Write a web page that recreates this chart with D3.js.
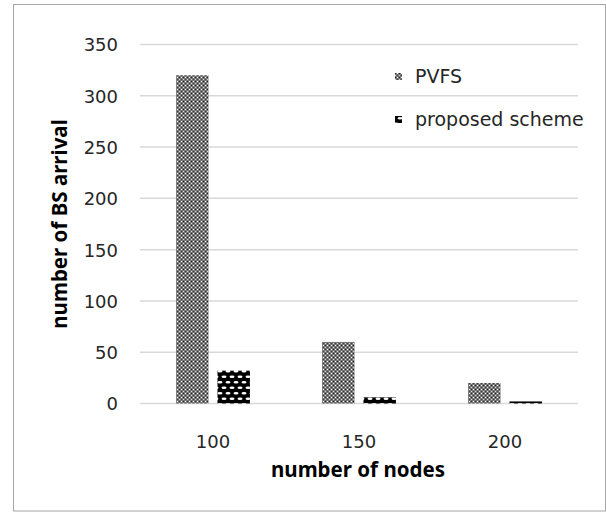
<!DOCTYPE html>
<html>
<head>
<meta charset="utf-8">
<script src="https://cdn.jsdelivr.net/npm/d3@7"></script>
<style>
  html, body { margin: 0; padding: 0; background: #fff; }
  svg { display: block; font-family: "DejaVu Sans", "Noto Sans", sans-serif; }
</style>
</head>
<body>
<svg id="chart" width="606" height="512"></svg>
<script>
// Node counts on the x axis
const categories = ["100", "150", "200"];
// Series names
const seriesNames = ["PVFS", "proposed scheme"];
// Number of BS arrivals per series
const pvfsValues = [320, 60, 20];
const proposedValues = [32, 6, 2];
// Y axis ticks
const yTicks = [0, 50, 100, 150, 200, 250, 300, 350];

const svg = d3.select("#chart");
const labelFont = "\"DejaVu Sans\", sans-serif";
const titleFont = "\"Noto Sans\", sans-serif";

// Fill patterns for the two series
const defs = svg.append("defs");
const pv = defs.append("pattern").attr("id", "pat-pvfs")
  .attr("patternUnits", "userSpaceOnUse").attr("width", 4).attr("height", 4);
pv.append("rect").attr("width", 4).attr("height", 4).attr("fill", "#777777");
pv.append("rect").attr("x", 1).attr("y", 1).attr("width", 1).attr("height", 1).attr("fill", "#ffffff");
pv.append("rect").attr("x", 3).attr("y", 3).attr("width", 1).attr("height", 1).attr("fill", "#d8d8d8");
pv.append("rect").attr("x", 3).attr("y", 1).attr("width", 1).attr("height", 1).attr("fill", "#202020");
pv.append("rect").attr("x", 1).attr("y", 3).attr("width", 1).attr("height", 1).attr("fill", "#404040");

const pp = defs.append("pattern").attr("id", "pat-prop")
  .attr("patternUnits", "userSpaceOnUse").attr("width", 8).attr("height", 11);
pp.append("rect").attr("width", 8).attr("height", 11).attr("fill", "#000");
pp.append("ellipse").attr("cx", 4).attr("cy", 2.75).attr("rx", 2.5).attr("ry", 1.2).attr("fill", "#fff");
pp.append("ellipse").attr("cx", 0).attr("cy", 8.25).attr("rx", 2.5).attr("ry", 1.2).attr("fill", "#fff");
pp.append("ellipse").attr("cx", 8).attr("cy", 8.25).attr("rx", 2.5).attr("ry", 1.2).attr("fill", "#fff");

const fills = ["url(#pat-pvfs)", "url(#pat-prop)"];

// Outer frame
svg.append("rect").attr("x", 13.5).attr("y", 4.5).attr("width", 592).attr("height", 506.5)
  .attr("fill", "#fff").attr("stroke", "#a6a6a6").attr("stroke-width", 1);

const plot = { left: 140, right: 578, top: 44.5, bottom: 403.5 };

const y = d3.scaleLinear().domain([0, 350]).range([plot.bottom, plot.top]);
const x0 = d3.scaleBand().domain(categories).range([plot.left, plot.right]).padding(0);
const bw = x0.bandwidth();
const x1 = d3.scaleBand().domain(seriesNames)
  .range([bw * 0.247, bw * 0.753]).paddingInner(0.217).paddingOuter(0);

// Gridlines
svg.append("g").selectAll("line").data(yTicks).join("line")
  .attr("x1", plot.left).attr("x2", plot.right)
  .attr("y1", d => y(d)).attr("y2", d => y(d))
  .attr("stroke", "#d9d9d9").attr("stroke-width", 1.5);

// Y axis labels
const yAxis = d3.axisLeft(y).tickValues(yTicks).tickSize(0).tickPadding(0);
const gy = svg.append("g").attr("transform", `translate(118,0)`).call(yAxis);
gy.select(".domain").remove();
gy.selectAll("text").attr("font-size", 18).attr("fill", "#262626")
  .attr("font-family", labelFont).attr("dy", "0.36em");

// X axis labels
const xAxis = d3.axisBottom(x0).tickSize(0).tickPadding(0);
const gx = svg.append("g").attr("transform", `translate(0,${plot.bottom})`).call(xAxis);
gx.select(".domain").remove();
gx.selectAll("text").attr("font-size", 18).attr("fill", "#262626")
  .attr("font-family", labelFont).attr("dy", null).attr("y", 44);

// Bars
const rows = categories.map((c, i) => ({ cat: c, vals: [pvfsValues[i], proposedValues[i]] }));
const groups = svg.append("g").selectAll("g").data(rows).join("g")
  .attr("transform", d => `translate(${x0(d.cat)},0)`);
groups.selectAll("rect").data(d => d.vals.map((v, j) => ({ v, s: seriesNames[j], j })))
  .join("rect")
  .attr("x", d => x1(d.s)).attr("width", x1.bandwidth())
  .attr("y", d => y(d.v)).attr("height", d => y(0) - y(d.v))
  .attr("fill", d => fills[d.j]);

// Axis titles
svg.append("text").attr("x", 358).attr("y", 477).attr("text-anchor", "middle")
  .attr("font-family", titleFont).attr("font-size", 20.5).attr("font-weight", "bold").attr("fill", "#000")
  .text("number of nodes");
svg.append("text").attr("transform", "translate(67,224) rotate(-90)").attr("text-anchor", "middle")
  .attr("font-family", titleFont).attr("font-size", 20.5).attr("font-weight", "bold").attr("fill", "#000")
  .text("number of BS arrival");

// Legend
const legend = svg.append("g");
const legY = [76.5, 119.5];
seriesNames.forEach((name, i) => {
  legend.append("rect").attr("x", 395).attr("y", legY[i] - 3.5).attr("width", 7).attr("height", 7)
    .attr("fill", fills[i]);
  legend.append("text").attr("x", 415).attr("y", legY[i]).attr("dy", "0.36em")
    .attr("font-family", labelFont).attr("font-size", 19).attr("fill", "#262626").text(name);
});
</script>
</body>
</html>
